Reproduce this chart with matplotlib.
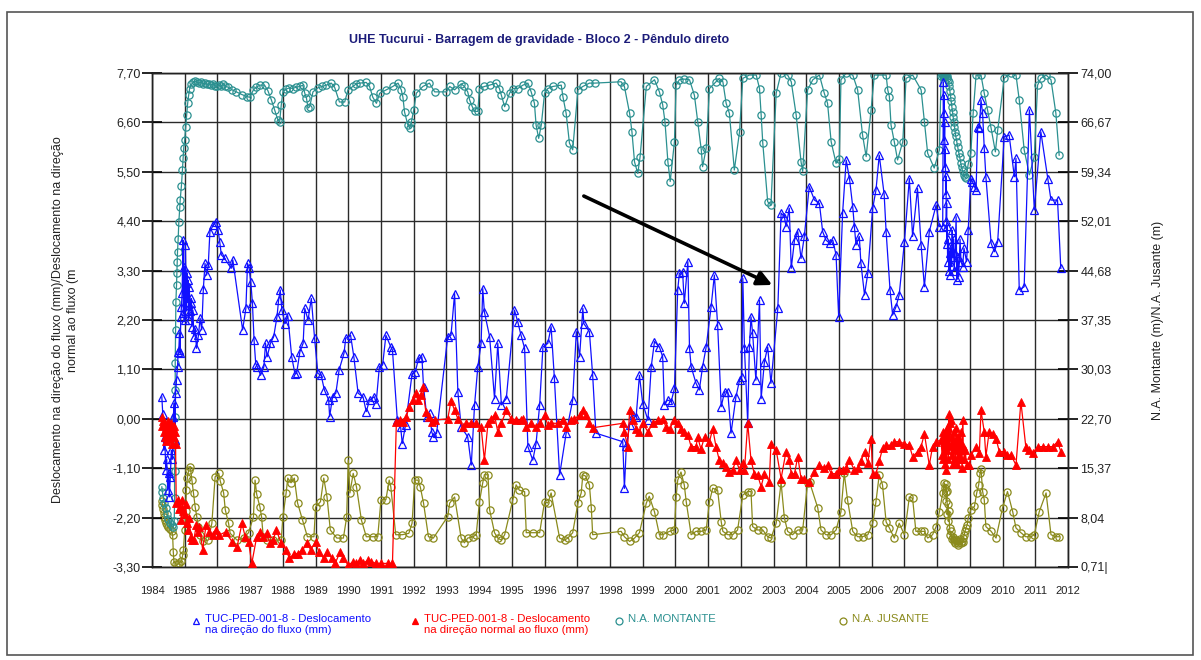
import matplotlib
matplotlib.use("Agg")
import matplotlib.pyplot as plt
import numpy as np
from matplotlib import font_manager
from matplotlib.lines import Line2D
from matplotlib.patches import Rectangle

# ---------------- data (year, value) ----------------
TITLE = "UHE Tucurui - Barragem de gravidade - Bloco 2 - Pêndulo direto"
YLABEL_LEFT = "Deslocamento na direção do fluxo (mm)/Deslocamento na direção\nnormal ao fluxo (m"
YLABEL_RIGHT = "N.A. Montante (m)/N.A. Jusante (m)"
LEGEND_LABELS = ["TUC-PED-001-8 - Deslocamento\nna direção do fluxo (mm)",
                 "TUC-PED-001-8 - Deslocamento\nna direção normal ao fluxo (mm)",
                 "N.A. MONTANTE", "N.A. JUSANTE"]
YEARS = list(range(1984, 2013))
LEFT_TICK_LABELS = ['-3,30', '-2,20', '-1,10', '0,00', '1,10', '2,20', '3,30', '4,40', '5,50', '6,60', '7,70']
RIGHT_TICK_LABELS = ['0,71|', '8,04', '15,37', '22,70', '30,03', '37,35', '44,68', '52,01', '59,34', '66,67', '74,00']

montante = [
    (1984.30, 12.6), (1984.32, 11.8), (1984.35, 11.0), (1984.38, 10.2), (1984.42, 9.4), (1984.46, 8.6),
    (1984.50, 7.9), (1984.55, 7.3), (1984.60, 6.9), (1984.65, 6.6), (1984.68, 7.5), (1984.69, 11.0),
    (1984.69, 15.0), (1984.70, 19.0), (1984.70, 23.0), (1984.71, 27.0), (1984.71, 31.0), (1984.72, 35.9),
    (1984.73, 40.0), (1984.75, 42.6), (1984.76, 44.4), (1984.77, 45.9), (1984.78, 47.5), (1984.80, 49.4),
    (1984.82, 51.9), (1984.85, 54.1), (1984.86, 55.1), (1984.90, 57.3), (1984.93, 59.6), (1984.95, 61.4),
    (1984.97, 62.9), (1985.00, 64.1), (1985.03, 66.0), (1985.06, 67.8), (1985.09, 69.5), (1985.12, 70.7),
    (1985.15, 71.7), (1985.20, 72.3), (1985.26, 72.6), (1985.32, 72.8), (1985.38, 72.6), (1985.44, 72.5),
    (1985.50, 72.7), (1985.56, 72.4), (1985.62, 72.5), (1985.68, 72.3), (1985.74, 72.4), (1985.80, 72.2),
    (1985.86, 72.4), (1985.92, 72.1), (1985.98, 72.0), (1986.04, 72.2), (1986.10, 72.0), (1986.16, 72.3),
    (1986.22, 72.1), (1986.32, 71.9), (1986.45, 71.5), (1986.58, 71.2), (1986.75, 70.8), (1986.90, 70.5),
    (1986.99, 70.4), (1987.10, 71.5), (1987.19, 71.9), (1987.30, 72.2), (1987.44, 72.2), (1987.54, 71.4),
    (1987.65, 70.0), (1987.75, 68.5), (1987.85, 67.0), (1987.90, 66.7), (1987.95, 69.2), (1988.00, 71.2),
    (1988.10, 71.6), (1988.20, 71.8), (1988.30, 71.7), (1988.41, 71.9), (1988.52, 72.0), (1988.61, 72.2),
    (1988.67, 71.0), (1988.72, 70.3), (1988.77, 68.8), (1988.82, 69.0), (1988.92, 71.2), (1989.07, 71.8),
    (1989.20, 72.0), (1989.33, 72.2), (1989.48, 72.5), (1989.58, 71.9), (1989.73, 69.7), (1989.89, 69.7),
    (1989.99, 71.5), (1990.14, 72.0), (1990.25, 72.4), (1990.35, 72.5), (1990.55, 72.6), (1990.65, 72.0),
    (1990.75, 70.4), (1990.86, 69.5), (1990.96, 71.0), (1991.16, 71.5), (1991.36, 72.0), (1991.52, 72.5),
    (1991.62, 71.5), (1991.67, 70.4), (1991.72, 68.2), (1991.82, 66.3), (1991.88, 65.8), (1991.93, 66.8),
    (1992.00, 68.5), (1992.08, 71.0), (1992.28, 72.0), (1992.48, 72.5), (1992.64, 71.2), (1993.00, 71.2),
    (1993.10, 72.0), (1993.25, 71.5), (1993.45, 72.4), (1993.55, 72.0), (1993.65, 71.2), (1993.71, 70.0),
    (1993.79, 69.0), (1993.86, 68.3), (1993.96, 68.3), (1994.01, 71.7), (1994.16, 72.0), (1994.32, 72.2),
    (1994.52, 72.5), (1994.62, 71.7), (1994.68, 70.7), (1994.78, 69.0), (1994.93, 71.0), (1995.03, 71.7),
    (1995.18, 71.7), (1995.34, 72.2), (1995.49, 72.5), (1995.59, 71.2), (1995.69, 69.5), (1995.74, 66.3),
    (1995.82, 64.3), (1995.90, 66.3), (1996.00, 71.0), (1996.10, 71.7), (1996.25, 72.0), (1996.51, 72.2),
    (1996.56, 70.5), (1996.66, 68.0), (1996.76, 63.6), (1996.86, 62.6), (1997.02, 71.5), (1997.17, 72.0),
    (1997.37, 72.5), (1997.53, 72.5), (1998.34, 72.7), (1998.44, 72.0), (1998.60, 68.0), (1998.67, 65.3),
    (1998.75, 60.8), (1998.85, 59.1), (1998.92, 61.6), (1999.11, 72.0), (1999.36, 73.0), (1999.51, 71.2),
    (1999.61, 69.3), (1999.68, 66.8), (1999.77, 60.8), (1999.84, 57.9), (1999.97, 63.8), (2000.02, 72.2),
    (2000.12, 73.0), (2000.25, 73.1), (2000.43, 73.0), (2000.58, 70.7), (2000.68, 66.8), (2000.79, 62.6),
    (2000.83, 60.1), (2000.94, 62.8), (2001.04, 71.7), (2001.24, 72.7), (2001.34, 73.2), (2001.45, 72.7),
    (2001.55, 69.5), (2001.65, 68.0), (2001.80, 59.6), (2001.96, 65.3), (2002.06, 73.2), (2002.26, 73.7),
    (2002.47, 73.7), (2002.57, 71.7), (2002.62, 67.8), (2002.67, 63.6), (2002.82, 54.9), (2002.92, 54.4),
    (2003.08, 71.0), (2003.23, 74.0), (2003.43, 73.7), (2003.54, 72.7), (2003.69, 67.8), (2003.84, 60.8),
    (2003.89, 59.4), (2004.04, 71.5), (2004.20, 73.0), (2004.40, 73.7), (2004.55, 71.0), (2004.65, 69.5),
    (2004.76, 63.8), (2004.91, 60.6), (2005.01, 61.3), (2005.06, 73.0), (2005.22, 74.0), (2005.42, 73.7),
    (2005.57, 71.5), (2005.72, 64.8), (2005.83, 61.6), (2005.98, 68.5), (2006.08, 73.7), (2006.44, 73.7),
    (2006.49, 71.5), (2006.54, 70.5), (2006.59, 66.3), (2006.69, 63.8), (2006.79, 61.1), (2006.95, 63.8),
    (2007.05, 73.2), (2007.25, 73.7), (2007.51, 71.5), (2007.61, 66.8), (2007.71, 62.1), (2007.91, 59.9),
    (2008.07, 62.6), (2008.12, 73.5), (2008.15, 73.9), (2008.17, 73.6), (2008.19, 73.9), (2008.21, 73.4),
    (2008.23, 73.8), (2008.25, 73.5), (2008.27, 73.9), (2008.29, 73.2), (2008.31, 73.6), (2008.33, 73.0),
    (2008.35, 72.6), (2008.37, 72.0), (2008.39, 71.3), (2008.41, 70.5), (2008.43, 69.8), (2008.45, 69.0),
    (2008.47, 68.2), (2008.49, 67.5), (2008.51, 66.7), (2008.53, 66.0), (2008.55, 65.3), (2008.57, 64.6),
    (2008.60, 63.8), (2008.63, 63.0), (2008.66, 62.2), (2008.69, 61.5), (2008.72, 60.7), (2008.75, 60.0),
    (2008.78, 59.4), (2008.81, 58.9), (2008.85, 58.5), (2008.88, 58.4), (2008.95, 60.5), (2009.03, 62.1),
    (2009.10, 68.0), (2009.19, 73.7), (2009.34, 73.7), (2009.44, 71.0), (2009.54, 68.5), (2009.65, 65.8),
    (2009.78, 62.3), (2009.85, 65.5), (2010.05, 73.2), (2010.26, 74.0), (2010.41, 73.7), (2010.51, 70.0),
    (2010.66, 62.6), (2010.82, 58.9), (2010.97, 61.6), (2011.07, 72.2), (2011.17, 73.2), (2011.33, 73.7),
    (2011.48, 73.0), (2011.63, 68.0), (2011.73, 61.8),
]

jusante = [
    (1984.30, 10.5), (1984.32, 9.9), (1984.34, 9.3), (1984.36, 8.7), (1984.38, 8.2), (1984.40, 7.7),
    (1984.43, 7.3), (1984.46, 6.9), (1984.50, 6.6), (1984.55, 6.3), (1984.60, 6.0), (1984.63, 5.5),
    (1984.65, 3.0), (1984.67, 1.5), (1984.72, 1.2), (1984.78, 1.1), (1984.84, 1.3), (1984.90, 1.6),
    (1984.94, 2.5), (1984.96, 3.2), (1985.00, 6.2), (1985.03, 9.0), (1985.05, 12.1), (1985.08, 13.9),
    (1985.12, 15.1), (1985.17, 15.6), (1985.22, 13.6), (1985.27, 11.7), (1985.32, 9.6), (1985.37, 8.1),
    (1985.42, 6.6), (1985.46, 5.5), (1985.57, 4.5), (1985.72, 4.7), (1985.83, 7.2), (1985.93, 14.1),
    (1986.04, 14.6), (1986.09, 13.4), (1986.19, 11.7), (1986.24, 9.2), (1986.34, 7.2), (1986.39, 5.7),
    (1986.60, 4.7), (1986.80, 5.0), (1986.95, 5.8), (1987.10, 8.1), (1987.15, 13.6), (1987.20, 11.5),
    (1987.30, 9.6), (1987.35, 8.1), (1987.40, 5.2), (1987.50, 4.7), (1987.70, 4.7), (1987.95, 4.7),
    (1988.00, 8.1), (1988.10, 11.7), (1988.15, 13.9), (1988.25, 13.2), (1988.35, 13.9), (1988.45, 10.2),
    (1988.60, 7.7), (1988.75, 5.2), (1988.95, 5.2), (1989.00, 9.6), (1989.15, 10.4), (1989.25, 13.9),
    (1989.35, 11.1), (1989.45, 6.2), (1989.65, 5.0), (1989.85, 5.0), (1989.95, 8.1), (1990.00, 16.6),
    (1990.05, 11.7), (1990.15, 14.6), (1990.25, 12.6), (1990.40, 7.7), (1990.55, 5.2), (1990.75, 5.2),
    (1990.90, 5.2), (1991.00, 10.7), (1991.15, 10.7), (1991.25, 13.6), (1991.30, 12.6), (1991.45, 5.5),
    (1991.65, 5.5), (1991.85, 5.7), (1991.95, 7.2), (1992.03, 13.6), (1992.13, 13.6), (1992.20, 12.6),
    (1992.30, 10.2), (1992.45, 5.2), (1992.60, 5.0), (1993.04, 8.2), (1993.10, 10.2), (1993.25, 11.1),
    (1993.45, 5.0), (1993.55, 4.3), (1993.65, 5.0), (1993.81, 5.2), (1993.91, 5.5), (1994.01, 10.4),
    (1994.11, 13.2), (1994.16, 14.4), (1994.27, 14.4), (1994.32, 9.2), (1994.47, 5.8), (1994.57, 5.0),
    (1994.68, 4.7), (1994.78, 5.5), (1995.03, 10.7), (1995.13, 12.9), (1995.23, 12.1), (1995.39, 11.9),
    (1995.44, 5.8), (1995.64, 5.8), (1995.85, 5.8), (1996.00, 10.4), (1996.10, 10.2), (1996.20, 11.7),
    (1996.46, 5.0), (1996.61, 4.7), (1996.71, 5.0), (1996.86, 5.8), (1997.02, 10.2), (1997.12, 11.7),
    (1997.17, 14.4), (1997.25, 14.2), (1997.37, 12.9), (1997.43, 9.4), (1997.47, 5.5), (1998.34, 6.0),
    (1998.44, 5.2), (1998.60, 4.5), (1998.75, 5.0), (1998.90, 5.8), (1999.11, 10.2), (1999.20, 11.2),
    (1999.36, 8.9), (1999.51, 5.5), (1999.61, 5.5), (1999.82, 6.0), (1999.97, 6.2), (2000.02, 11.1),
    (2000.07, 13.6), (2000.17, 14.8), (2000.27, 12.9), (2000.33, 10.4), (2000.48, 5.5), (2000.63, 6.0),
    (2000.79, 6.0), (2000.94, 6.2), (2001.04, 10.4), (2001.14, 12.4), (2001.29, 12.1), (2001.40, 7.4),
    (2001.45, 6.0), (2001.60, 5.5), (2001.75, 5.5), (2001.90, 6.2), (2002.06, 11.4), (2002.21, 11.9),
    (2002.31, 11.9), (2002.36, 6.7), (2002.51, 6.2), (2002.67, 6.2), (2002.82, 5.2), (2002.92, 5.0),
    (2003.08, 7.2), (2003.23, 13.2), (2003.33, 8.0), (2003.43, 6.0), (2003.58, 5.5), (2003.74, 6.2),
    (2003.89, 6.2), (2004.04, 13.2), (2004.10, 13.3), (2004.35, 9.5), (2004.45, 6.2), (2004.60, 5.5),
    (2004.76, 5.5), (2004.91, 6.2), (2005.06, 8.9), (2005.16, 14.6), (2005.26, 10.7), (2005.42, 6.0),
    (2005.57, 5.2), (2005.72, 5.2), (2005.88, 5.5), (2006.03, 7.2), (2006.13, 10.4), (2006.23, 14.4),
    (2006.33, 12.9), (2006.44, 7.4), (2006.54, 6.5), (2006.69, 5.0), (2006.84, 7.2), (2007.00, 5.5),
    (2007.15, 11.1), (2007.25, 10.9), (2007.35, 6.0), (2007.51, 6.0), (2007.61, 6.0), (2007.71, 5.0),
    (2007.86, 5.5), (2007.97, 6.7), (2008.07, 8.9), (2008.17, 11.7), (2008.22, 13.2), (2008.24, 12.5),
    (2008.26, 11.9), (2008.27, 13.0), (2008.28, 10.5), (2008.30, 12.0), (2008.31, 8.5), (2008.33, 10.0),
    (2008.34, 7.5), (2008.36, 9.0), (2008.38, 6.5), (2008.40, 5.5), (2008.42, 6.0), (2008.45, 4.8),
    (2008.48, 5.2), (2008.50, 4.5), (2008.53, 4.9), (2008.55, 4.3), (2008.58, 4.7), (2008.60, 4.5),
    (2008.63, 4.0), (2008.65, 4.2), (2008.68, 4.6), (2008.70, 4.8), (2008.73, 4.2), (2008.75, 4.5),
    (2008.78, 4.4), (2008.80, 5.0), (2008.83, 5.5), (2008.85, 6.0), (2008.88, 6.5), (2008.92, 7.0),
    (2008.95, 8.0), (2009.03, 9.2), (2009.14, 9.7), (2009.21, 11.7), (2009.27, 12.9), (2009.31, 14.6),
    (2009.34, 15.3), (2009.39, 11.9), (2009.44, 10.7), (2009.49, 6.7), (2009.65, 6.0), (2009.80, 5.0),
    (2010.00, 9.5), (2010.15, 11.9), (2010.31, 8.9), (2010.41, 6.5), (2010.56, 5.8), (2010.71, 5.2),
    (2010.87, 5.2), (2010.97, 5.5), (2011.12, 8.9), (2011.33, 11.7), (2011.48, 5.5), (2011.63, 5.2),
    (2011.73, 5.2),
]

desl_fluxo = [
    (1984.30, 0.49), (1984.33, 0.10), (1984.36, -0.70), (1984.39, -0.40), (1984.42, -1.14), (1984.45, -0.90),
    (1984.48, -1.59), (1984.51, -1.20), (1984.53, -1.74), (1984.56, -1.30), (1984.59, -0.70), (1984.62, -0.90),
    (1984.65, 0.05), (1984.68, 0.35), (1984.70, -0.47), (1984.72, 0.57), (1984.75, 0.86), (1984.78, 1.16),
    (1984.80, 1.49), (1984.82, 1.53), (1984.84, 1.91), (1984.86, 1.46), (1984.88, 2.27), (1984.90, 2.50),
    (1984.92, 2.80), (1984.95, 3.98), (1984.96, 2.35), (1984.98, 3.39), (1985.00, 2.20), (1985.02, 3.87),
    (1985.04, 3.02), (1985.05, 2.40), (1985.07, 3.25), (1985.09, 2.60), (1985.10, 3.09), (1985.12, 2.20),
    (1985.14, 2.94), (1985.16, 2.40), (1985.18, 2.58), (1985.20, 2.68), (1985.22, 2.05), (1985.25, 2.42),
    (1985.28, 1.83), (1985.32, 2.00), (1985.36, 1.57), (1985.42, 1.86), (1985.47, 2.24), (1985.52, 1.98),
    (1985.57, 2.90), (1985.62, 3.46), (1985.67, 3.20), (1985.72, 3.42), (1985.77, 4.17), (1985.87, 4.31),
    (1985.97, 4.39), (1986.02, 4.20), (1986.07, 3.94), (1986.12, 3.65), (1986.22, 3.57), (1986.42, 3.35),
    (1986.47, 3.54), (1986.77, 1.98), (1986.87, 2.46), (1986.92, 3.46), (1986.97, 3.35), (1987.02, 3.05),
    (1987.07, 2.57), (1987.12, 1.75), (1987.17, 1.23), (1987.22, 1.16), (1987.32, 0.97), (1987.42, 1.16),
    (1987.47, 1.68), (1987.52, 1.38), (1987.62, 1.68), (1987.72, 1.83), (1987.82, 2.27), (1987.87, 2.64),
    (1987.92, 2.87), (1987.97, 2.42), (1988.07, 2.12), (1988.15, 2.30), (1988.27, 1.38), (1988.37, 1.00),
    (1988.42, 1.01), (1988.52, 1.49), (1988.62, 1.68), (1988.67, 2.46), (1988.77, 2.20), (1988.87, 2.68),
    (1988.97, 1.79), (1989.07, 1.01), (1989.17, 0.97), (1989.27, 0.64), (1989.40, 0.42), (1989.43, 0.05),
    (1989.52, 0.49), (1989.62, 0.57), (1989.72, 1.09), (1989.87, 1.46), (1989.92, 1.79), (1990.07, 1.86),
    (1990.17, 1.38), (1990.30, 0.57), (1990.45, 0.49), (1990.55, 0.16), (1990.65, 0.42), (1990.80, 0.49),
    (1990.85, 0.34), (1990.95, 1.16), (1991.05, 1.20), (1991.15, 1.86), (1991.30, 1.60), (1991.35, 1.53),
    (1991.50, -0.03), (1991.60, -0.18), (1991.65, -0.55), (1991.75, -0.14), (1991.95, 1.00), (1992.05, 1.05),
    (1992.15, 1.35), (1992.25, 1.38), (1992.30, 0.71), (1992.40, 0.05), (1992.49, 0.12), (1992.55, -0.29),
    (1992.60, -0.40), (1992.70, -0.32), (1993.04, 1.83), (1993.14, 1.86), (1993.25, 2.79), (1993.35, 0.60),
    (1993.45, -0.18), (1993.65, -0.40), (1993.76, -1.03), (1993.86, 0.31), (1993.96, 1.16), (1994.06, 1.68),
    (1994.11, 2.90), (1994.16, 2.38), (1994.32, 1.83), (1994.47, 0.45), (1994.57, 1.68), (1994.68, 0.31),
    (1994.83, 0.45), (1995.08, 2.42), (1995.18, 2.16), (1995.28, 1.86), (1995.39, 1.57), (1995.49, -0.62),
    (1995.64, -0.92), (1995.74, -0.55), (1995.85, 0.31), (1995.95, 1.60), (1996.10, 1.68), (1996.20, 2.05),
    (1996.30, 0.90), (1996.46, -1.25), (1996.66, -0.32), (1996.86, 0.42), (1996.97, 1.94), (1997.07, 1.38),
    (1997.17, 2.46), (1997.20, 2.12), (1997.37, 1.94), (1997.47, 0.97), (1997.57, -0.32), (1998.39, -0.51),
    (1998.44, -1.55), (1998.50, -0.60), (1998.60, -0.14), (1998.70, 0.08), (1998.80, 0.05), (1998.90, 0.97),
    (1999.00, 0.34), (1999.16, -0.03), (1999.26, 1.16), (1999.36, 1.72), (1999.51, 1.60), (1999.61, 1.38),
    (1999.66, 0.31), (1999.76, 0.42), (1999.87, 0.38), (1999.97, 0.68), (2000.07, 2.87), (2000.12, 3.24),
    (2000.22, 3.27), (2000.27, 2.57), (2000.38, 3.50), (2000.43, 1.57), (2000.48, 1.16), (2000.63, 0.79),
    (2000.73, 0.64), (2000.83, 1.16), (2000.94, 1.60), (2001.09, 2.49), (2001.19, 3.20), (2001.29, 2.09),
    (2001.40, 0.27), (2001.50, 0.60), (2001.60, 0.60), (2001.70, -0.32), (2001.85, 0.49), (2001.96, 0.86),
    (2002.03, 0.94), (2002.06, 3.13), (2002.11, 1.57), (2002.21, -0.10), (2002.26, 1.60), (2002.31, 2.27),
    (2002.36, 1.90), (2002.46, 0.86), (2002.57, 2.64), (2002.62, 0.45), (2002.72, 1.27), (2002.82, 1.60),
    (2002.92, 0.79), (2003.13, 2.46), (2003.23, 4.58), (2003.33, 4.50), (2003.38, 4.28), (2003.48, 4.69),
    (2003.54, 3.35), (2003.64, 3.98), (2003.74, 4.17), (2003.84, 3.57), (2003.94, 4.06), (2004.09, 5.17),
    (2004.25, 4.87), (2004.40, 4.80), (2004.50, 4.17), (2004.60, 3.98), (2004.71, 3.91), (2004.81, 3.98),
    (2004.91, 3.65), (2004.99, 2.27), (2005.11, 4.58), (2005.22, 5.76), (2005.32, 5.35), (2005.42, 4.72),
    (2005.47, 4.28), (2005.52, 3.87), (2005.62, 4.06), (2005.67, 3.46), (2005.78, 2.76), (2005.88, 3.24),
    (2006.03, 4.69), (2006.13, 5.09), (2006.23, 5.87), (2006.38, 5.00), (2006.44, 4.17), (2006.56, 2.87),
    (2006.64, 2.31), (2006.74, 2.49), (2006.84, 2.76), (2007.00, 3.94), (2007.15, 5.35), (2007.25, 4.06),
    (2007.40, 5.13), (2007.51, 3.87), (2007.61, 2.94), (2007.76, 4.17), (2007.97, 4.76), (2008.07, 4.28),
    (2008.17, 4.28), (2008.19, 7.50), (2008.20, 6.80), (2008.21, 7.20), (2008.22, 6.20), (2008.23, 6.60),
    (2008.24, 5.60), (2008.25, 6.00), (2008.26, 5.00), (2008.27, 5.40), (2008.28, 4.40), (2008.29, 4.80),
    (2008.30, 3.90), (2008.31, 4.30), (2008.32, 3.50), (2008.34, 4.00), (2008.36, 3.30), (2008.38, 3.70),
    (2008.40, 3.20), (2008.42, 3.80), (2008.44, 3.40), (2008.46, 4.20), (2008.48, 3.60), (2008.50, 4.00),
    (2008.52, 3.30), (2008.55, 3.70), (2008.58, 4.50), (2008.60, 3.10), (2008.63, 3.60), (2008.66, 3.16),
    (2008.70, 4.00), (2008.73, 3.50), (2008.78, 3.39), (2008.82, 3.80), (2008.90, 3.50), (2008.95, 4.20),
    (2009.03, 5.35), (2009.08, 5.28), (2009.14, 5.17), (2009.19, 5.09), (2009.24, 6.50), (2009.29, 6.47),
    (2009.34, 7.10), (2009.39, 6.80), (2009.44, 6.02), (2009.49, 5.39), (2009.65, 3.91), (2009.75, 3.72),
    (2009.85, 3.94), (2010.05, 6.28), (2010.20, 6.32), (2010.36, 5.39), (2010.41, 5.80), (2010.51, 2.87),
    (2010.66, 2.94), (2010.82, 6.88), (2010.97, 4.65), (2011.17, 6.39), (2011.38, 5.35), (2011.48, 4.87),
    (2011.68, 4.87), (2011.78, 3.35),
]

desl_normal = [
    (1984.30, 0.05), (1984.32, -0.15), (1984.34, -0.05), (1984.36, -0.30), (1984.38, -0.10), (1984.40, -0.40),
    (1984.42, -0.20), (1984.44, -0.50), (1984.46, -0.25), (1984.48, -0.05), (1984.50, -0.35), (1984.52, -0.15),
    (1984.54, -0.45), (1984.56, -0.25), (1984.58, -0.10), (1984.60, -0.35), (1984.62, -0.55), (1984.64, -0.20),
    (1984.66, -0.40), (1984.68, -0.15), (1984.70, -0.30), (1984.72, -0.55), (1984.74, -1.88), (1984.78, -1.81),
    (1984.82, -2.00), (1984.86, -1.96), (1984.90, -2.26), (1984.93, -1.81), (1984.96, -2.05), (1985.00, -2.11),
    (1985.03, -1.90), (1985.06, -2.33), (1985.10, -2.48), (1985.14, -2.20), (1985.18, -2.63), (1985.22, -2.70),
    (1985.28, -2.70), (1985.35, -2.37), (1985.40, -2.52), (1985.45, -2.40), (1985.55, -2.92), (1985.65, -2.37),
    (1985.75, -2.52), (1985.85, -2.59), (1985.95, -2.48), (1986.05, -2.59), (1986.25, -2.52), (1986.45, -2.74),
    (1986.60, -2.85), (1986.75, -2.33), (1986.85, -2.63), (1986.95, -2.74), (1987.05, -3.22), (1987.20, -2.63),
    (1987.30, -2.52), (1987.40, -2.63), (1987.50, -2.55), (1987.60, -2.77), (1987.70, -2.70), (1987.80, -2.48),
    (1987.95, -2.77), (1988.10, -2.92), (1988.20, -3.11), (1988.35, -3.00), (1988.45, -3.00), (1988.60, -2.92),
    (1988.75, -2.77), (1988.85, -2.92), (1989.00, -2.74), (1989.10, -2.96), (1989.25, -3.11), (1989.35, -2.96),
    (1989.50, -3.11), (1989.60, -3.22), (1989.75, -2.96), (1989.85, -3.11), (1990.00, -3.26), (1990.15, -3.18),
    (1990.25, -3.22), (1990.35, -3.15), (1990.45, -3.22), (1990.60, -3.15), (1990.70, -3.18), (1990.85, -3.22),
    (1991.00, -3.22), (1991.20, -3.22), (1991.35, -3.22), (1991.47, -0.07), (1991.57, -0.03), (1991.67, -0.07),
    (1991.77, 0.05), (1991.87, 0.27), (1991.97, 0.42), (1992.07, 0.57), (1992.12, 0.42), (1992.22, 0.53),
    (1992.27, 0.71), (1992.37, 0.16), (1992.47, 0.05), (1992.57, -0.07), (1992.64, -0.03), (1993.04, 0.00),
    (1993.14, 0.40), (1993.25, 0.19), (1993.35, 0.00), (1993.50, -0.18), (1993.60, -0.10), (1993.76, -0.10),
    (1993.91, -0.10), (1994.06, -0.18), (1994.16, -0.92), (1994.27, -0.10), (1994.37, 0.00), (1994.47, 0.08),
    (1994.57, -0.29), (1994.68, -0.10), (1994.83, 0.19), (1994.98, 0.00), (1995.13, -0.03), (1995.28, -0.03),
    (1995.34, 0.00), (1995.44, -0.18), (1995.59, -0.10), (1995.74, -0.18), (1995.85, -0.10), (1996.00, 0.08),
    (1996.10, -0.14), (1996.20, -0.10), (1996.41, -0.10), (1996.56, -0.03), (1996.66, -0.18), (1996.81, -0.03),
    (1996.91, 0.00), (1997.07, 0.08), (1997.17, 0.19), (1997.27, 0.08), (1997.37, -0.10), (1997.47, -0.20),
    (1998.39, -0.10), (1998.44, -0.29), (1998.54, -0.62), (1998.60, 0.19), (1998.70, -0.03), (1998.80, -0.22),
    (1998.90, -0.29), (1999.00, -0.10), (1999.16, -0.29), (1999.31, -0.10), (1999.46, -0.03), (1999.61, 0.00),
    (1999.71, -0.18), (1999.82, -0.22), (1999.97, -0.03), (2000.07, -0.10), (2000.17, -0.22), (2000.27, -0.29),
    (2000.38, -0.36), (2000.48, -0.62), (2000.63, -0.62), (2000.68, -0.40), (2000.78, -0.68), (2000.89, -0.40),
    (2001.04, -0.51), (2001.14, -0.22), (2001.24, -0.62), (2001.34, -0.92), (2001.45, -0.99), (2001.55, -1.07),
    (2001.65, -1.18), (2001.75, -1.14), (2001.85, -0.92), (2001.96, -1.14), (2002.06, -0.99), (2002.11, -1.14),
    (2002.21, -0.10), (2002.31, -0.92), (2002.41, -1.22), (2002.51, -1.25), (2002.62, -1.51), (2002.72, -1.22),
    (2002.87, -1.40), (2002.92, -0.55), (2003.08, -0.70), (2003.23, -1.33), (2003.38, -0.73), (2003.48, -0.92),
    (2003.54, -1.22), (2003.64, -1.22), (2003.74, -0.84), (2003.84, -1.33), (2003.94, -1.33), (2004.09, -1.40),
    (2004.25, -1.18), (2004.40, -1.03), (2004.55, -1.10), (2004.65, -1.03), (2004.76, -1.22), (2004.91, -1.22),
    (2005.01, -1.14), (2005.11, -1.14), (2005.22, -1.10), (2005.32, -0.92), (2005.47, -1.14), (2005.57, -1.10),
    (2005.67, -0.95), (2005.78, -0.73), (2005.88, -0.99), (2005.98, -0.44), (2006.03, -1.22), (2006.13, -1.22),
    (2006.23, -0.95), (2006.33, -0.66), (2006.44, -0.59), (2006.59, -0.59), (2006.69, -0.51), (2006.84, -0.51),
    (2006.99, -0.55), (2007.15, -0.59), (2007.25, -0.84), (2007.41, -0.73), (2007.51, -0.62), (2007.61, -0.33),
    (2007.76, -1.03), (2007.86, -0.62), (2007.97, -0.51), (2008.12, -0.47), (2008.15, -0.80), (2008.17, -0.30),
    (2008.19, -0.90), (2008.21, -0.36), (2008.23, -1.00), (2008.25, -0.50), (2008.27, -1.14), (2008.29, -0.20),
    (2008.31, -0.70), (2008.32, -0.18), (2008.34, -0.90), (2008.36, 0.10), (2008.38, -0.60), (2008.40, -0.10),
    (2008.42, -0.03), (2008.44, -0.80), (2008.46, -0.40), (2008.48, -1.00), (2008.50, -0.30), (2008.52, -0.70),
    (2008.54, -0.50), (2008.56, -0.90), (2008.58, -0.20), (2008.60, -0.60), (2008.62, -1.00), (2008.64, -0.40),
    (2008.66, -0.80), (2008.68, -0.50), (2008.70, -0.90), (2008.72, -0.30), (2008.74, -0.70), (2008.76, -1.10),
    (2008.78, -0.03), (2008.80, -0.60), (2008.83, -0.90), (2008.86, -0.70), (2008.90, -1.03), (2008.98, -1.03),
    (2009.05, -0.80), (2009.19, -0.62), (2009.29, -0.77), (2009.34, 0.19), (2009.44, -0.29), (2009.49, -0.84),
    (2009.59, -0.29), (2009.70, -0.33), (2009.80, -0.44), (2009.90, -0.73), (2010.05, -0.73), (2010.15, -0.81),
    (2010.26, -0.81), (2010.41, -1.03), (2010.56, 0.38), (2010.71, -0.62), (2010.82, -0.70), (2010.92, -0.77),
    (2011.07, -0.62), (2011.23, -0.62), (2011.38, -0.62), (2011.53, -0.62), (2011.68, -0.51), (2011.78, -0.73),
]

# arrow annotation (data coordinates: year, left-axis value)
ARROW_FROM = (1997.2, 4.96)
ARROW_TO = (2002.96, 2.98)

# ---------------- style ----------------
BLUE = '#1010ff'
RED = '#ff0000'
TEAL = '#2b9090'
OLIVE = '#8a8a1c'
NAVY = '#1c1c7a'

names = {f.name for f in font_manager.fontManager.ttflist}
BASE = 'Liberation Sans' if 'Liberation Sans' in names else 'DejaVu Sans'
NARROW = 'Liberation Sans Narrow' if 'Liberation Sans Narrow' in names else BASE
plt.rcParams['font.family'] = [BASE, 'DejaVu Sans']

W, H = 1201, 660
fig = plt.figure(figsize=(W / 100, H / 100), dpi=100)
fig.patch.set_facecolor('white')

L, R, T, B = 152, 1068, 73, 567
ax2 = fig.add_axes([L / W, 1 - B / H, (R - L) / W, (B - T) / H])
ax = ax2.twinx()
ax.set_zorder(ax2.get_zorder() + 1)
ax.patch.set_visible(False)
# ax2 -> right side (NA), ax -> left side (deslocamento)
ax2.yaxis.tick_right()
ax2.yaxis.set_label_position('right')
ax.yaxis.tick_left()
ax.yaxis.set_label_position('left')


def unzip(pts):
    return [p[0] for p in pts], [p[1] for p in pts]


mx, my = unzip(montante)
jx, jy = unzip(jusante)
bx, by = unzip(desl_fluxo)
rx, ry = unzip(desl_normal)

ax2.plot(jx, jy, color=OLIVE, lw=0.9, marker='o', ms=5.2, mfc='none', mec=OLIVE, mew=0.9, zorder=3)
ax2.plot(mx, my, color=TEAL, lw=0.9, marker='o', ms=5.2, mfc='none', mec=TEAL, mew=0.9, zorder=4)
ax.plot(bx, by, color=BLUE, lw=0.9, marker='^', ms=5.8, mfc='none', mec=BLUE, mew=0.9, zorder=3)
ax.plot(rx, ry, color=RED, lw=0.9, marker='^', ms=5.6, mfc=RED, mec=RED, mew=0.6, zorder=4)

ax.set_xlim(1984, 2012)
ax.set_ylim(-3.3, 7.7)
ax2.set_ylim(0.71, 74.0)

ax2.set_xticks(YEARS)
ax2.set_xticklabels([str(y) for y in YEARS], fontsize=8.0, family=NARROW, color='#222222')
ax2.tick_params(axis='x', length=0, pad=14)

ax.set_yticks(np.linspace(-3.3, 7.7, len(LEFT_TICK_LABELS)))
ax.set_yticklabels(LEFT_TICK_LABELS, fontsize=9, color='#222222')
ax.tick_params(axis='y', direction='inout', length=14, width=1.2, pad=1)

ax2.set_yticks(np.linspace(0.71, 74.0, len(RIGHT_TICK_LABELS)))
ax2.set_yticklabels(RIGHT_TICK_LABELS, fontsize=9, color='#222222')
ax2.tick_params(axis='y', direction='inout', length=14, width=1.2, pad=2)

ax2.grid(True, color='#2a2a2a', lw=1.0)
ax2.set_axisbelow(True)
for a in (ax, ax2):
    for s in a.spines.values():
        s.set_color('#222222')
        s.set_linewidth(1.0)

ax.set_ylabel(YLABEL_LEFT, fontsize=9, color='#222222', labelpad=24, linespacing=1.3)
ax2.set_ylabel(YLABEL_RIGHT, fontsize=9, color='#222222', labelpad=29)

fig.text(539 / W, 1 - 40 / H, TITLE, ha='center', va='center', fontsize=9, fontweight='bold', color=NAVY)

ax.annotate('', xy=ARROW_TO, xytext=ARROW_FROM,
            arrowprops=dict(arrowstyle='-|>', color='black', lw=2.6, mutation_scale=22,
                            shrinkA=0, shrinkB=0), zorder=10)

# legend (manual, below the plot)
legend_items = [
    (196, dict(marker='^', mfc='none', mec=BLUE, color=BLUE), BLUE, LEGEND_LABELS[0]),
    (415, dict(marker='^', mfc=RED, mec=RED, color=RED), RED, LEGEND_LABELS[1]),
    (619, dict(marker='o', mfc='none', mec=TEAL, color=TEAL), TEAL, LEGEND_LABELS[2]),
    (843, dict(marker='o', mfc='none', mec=OLIVE, color=OLIVE), OLIVE, LEGEND_LABELS[3]),
]
for px, mk, col, lab in legend_items:
    fig.add_artist(Line2D([px / W], [1 - 621 / H], transform=fig.transFigure, ls='none', ms=5,
                          mew=0.9, **mk))
    fig.text((px + 9) / W, 1 - 614 / H, lab, ha='left', va='top', fontsize=8.2, family=NARROW,
             color=col, linespacing=1.15)

fig.add_artist(Rectangle((7 / W, 1 - 655 / H), (1193 - 7) / W, (655 - 12) / H, transform=fig.transFigure,
                         fill=False, ec='#555555', lw=1.2))

fig.savefig('out.png', dpi=100)
